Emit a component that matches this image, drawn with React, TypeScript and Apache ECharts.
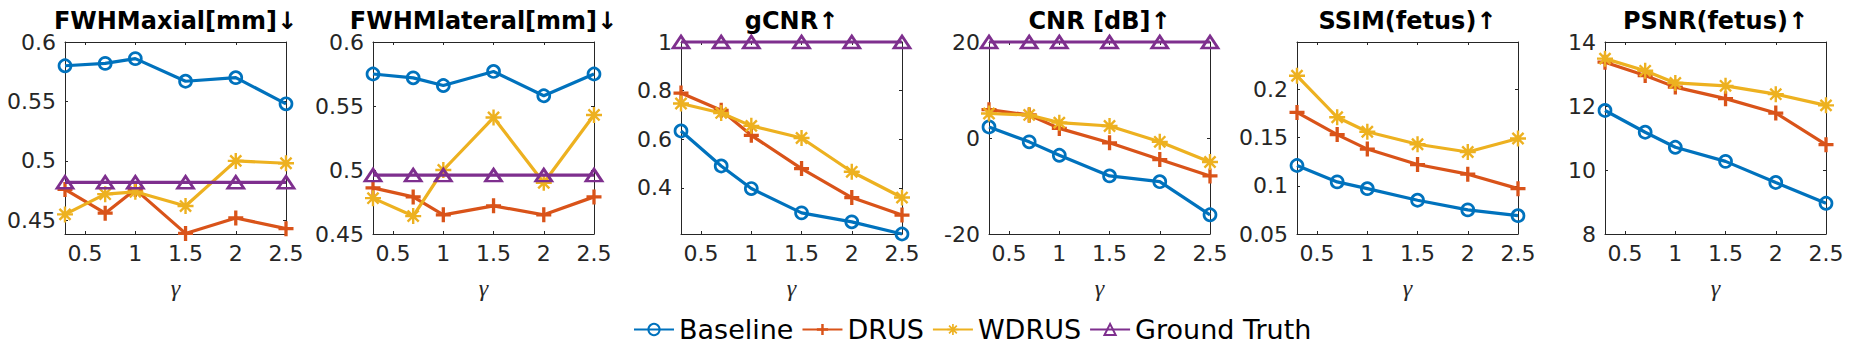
import React, { useEffect, useRef } from 'react';
import * as echarts from 'echarts';

// ---- data ----
const gamma = [0.3, 0.7, 1, 1.5, 2, 2.5];
const xTicks = [0.5, 1, 1.5, 2, 2.5];
const titles = ['FWHMaxial[mm]↓', 'FWHMlateral[mm]↓', 'gCNR↑', 'CNR [dB]↑', 'SSIM(fetus)↑', 'PSNR(fetus)↑'];
const seriesNames = ['Baseline', 'DRUS', 'WDRUS', 'Ground Truth'];

const fwhmAxialBaseline = [0.580, 0.582, 0.586, 0.567, 0.570, 0.548];
const fwhmAxialDRUS = [0.476, 0.456, 0.476, 0.439, 0.452, 0.443];
const fwhmAxialWDRUS = [0.455, 0.472, 0.474, 0.462, 0.500, 0.498];
const fwhmAxialGT = [0.482, 0.482, 0.482, 0.482, 0.482, 0.482];

const fwhmLatBaseline = [0.575, 0.572, 0.566, 0.577, 0.558, 0.575];
const fwhmLatDRUS = [0.486, 0.479, 0.465, 0.472, 0.465, 0.479];
const fwhmLatWDRUS = [0.478, 0.464, 0.500, 0.541, 0.490, 0.543];
const fwhmLatGT = [0.496, 0.496, 0.496, 0.496, 0.496, 0.496];

const gcnrBaseline = [0.634, 0.490, 0.397, 0.297, 0.260, 0.210];
const gcnrDRUS = [0.790, 0.719, 0.616, 0.479, 0.360, 0.288];
const gcnrWDRUS = [0.747, 0.708, 0.655, 0.605, 0.466, 0.360];
const gcnrGT = [1, 1, 1, 1, 1, 1];

const cnrBaseline = [2.3, -0.8, -3.6, -7.9, -9.1, -16.0];
const cnrDRUS = [5.9, 4.8, 2.0, -1.0, -4.5, -7.9];
const cnrWDRUS = [5.1, 4.8, 3.2, 2.5, -0.8, -5.0];
const cnrGT = [20, 20, 20, 20, 20, 20];

const ssimBaseline = [0.121, 0.104, 0.097, 0.085, 0.075, 0.069];
const ssimDRUS = [0.176, 0.153, 0.138, 0.122, 0.112, 0.097];
const ssimWDRUS = [0.214, 0.171, 0.156, 0.143, 0.135, 0.149];

const psnrBaseline = [11.86, 11.18, 10.71, 10.27, 9.61, 8.96];
const psnrDRUS = [13.37, 12.95, 12.59, 12.23, 11.78, 10.79];
const psnrWDRUS = [13.48, 13.10, 12.72, 12.63, 12.37, 12.02];

const panels: (number[] | null)[][] = [
  [fwhmAxialBaseline, fwhmAxialDRUS, fwhmAxialWDRUS, fwhmAxialGT],
  [fwhmLatBaseline, fwhmLatDRUS, fwhmLatWDRUS, fwhmLatGT],
  [gcnrBaseline, gcnrDRUS, gcnrWDRUS, gcnrGT],
  [cnrBaseline, cnrDRUS, cnrWDRUS, cnrGT],
  [ssimBaseline, ssimDRUS, ssimWDRUS, null],
  [psnrBaseline, psnrDRUS, psnrWDRUS, null],
];

const yMins = [0.4385, 0.45, 0.21, -20, 0.05, 8];
const yMaxs = [0.6, 0.6, 1, 20, 0.249, 14];
const yTicks = [
  [0.45, 0.5, 0.55, 0.6],
  [0.45, 0.5, 0.55, 0.6],
  [0.4, 0.6, 0.8, 1],
  [-20, 0, 20],
  [0.05, 0.1, 0.15, 0.2],
  [8, 10, 12, 14],
];

// ---- layout / style ----
const gridLefts = [65, 373, 681, 989, 1297, 1605];
const gridTop = 42;
const gridW = 221;
const gridH = 192;
const colors = ['#0072BD', '#D95319', '#EDB120', '#7E2F8E'];
const axisColor = '#262626';
const FONT = 'DejaVu Sans';

const plusPath = 'path://M7.8,0H12.2V7.8H20V12.2H12.2V20H7.8V12.2H0V7.8H7.8Z';
const starPath =
  'path://M0,8.5H20V11.5H0Z M8.5,0H11.5V20H8.5Z M4.1,2.0L18.0,15.9L15.9,18.0L2.0,4.1Z M2.0,15.9L15.9,2.0L18.0,4.1L4.1,18.0Z';

function fmt(v: number) {
  return String(parseFloat(v.toFixed(4)));
}

function buildOption() {
  const xAxis: any[] = [];
  const yAxis: any[] = [];
  const grid: any[] = [];
  const series: any[] = [];
  const graphic: any[] = [];

  panels.forEach((sets, i) => {
    grid.push({ left: gridLefts[i], top: gridTop, width: gridW, height: gridH, containLabel: false });
    const axLine = { show: true, onZero: false, lineStyle: { color: axisColor, width: 1 } };
    const tickX = { show: true, inside: true, length: 3, lineStyle: { color: axisColor }, customValues: xTicks };
    const tickY = { show: true, inside: true, length: 3, lineStyle: { color: axisColor }, customValues: yTicks[i] };
    xAxis.push({
      type: 'value', gridIndex: i, position: 'bottom', min: 0.3, max: 2.5,
      axisLine: axLine, axisTick: tickX, splitLine: { show: false },
      axisLabel: { show: true, customValues: xTicks, margin: 8, color: axisColor, fontSize: 22, fontFamily: FONT, formatter: (v: number) => fmt(v) },
      name: 'γ', nameLocation: 'middle', nameGap: 42,
      nameTextStyle: { fontFamily: 'Liberation Serif', fontStyle: 'italic', fontSize: 24, color: axisColor },
    });
    xAxis.push({
      type: 'value', gridIndex: i, position: 'top', min: 0.3, max: 2.5,
      axisLine: axLine, axisTick: tickX, splitLine: { show: false }, axisLabel: { show: false },
    });
    yAxis.push({
      type: 'value', gridIndex: i, position: 'left', min: yMins[i], max: yMaxs[i],
      axisLine: axLine, axisTick: tickY, splitLine: { show: false },
      axisLabel: { show: true, customValues: yTicks[i], margin: 9, color: axisColor, fontSize: 22, fontFamily: FONT, formatter: (v: number) => fmt(v) },
    });
    yAxis.push({
      type: 'value', gridIndex: i, position: 'right', min: yMins[i], max: yMaxs[i],
      axisLine: axLine, axisTick: tickY, splitLine: { show: false }, axisLabel: { show: false },
    });

    sets.forEach((vals, s) => {
      if (!vals) return;
      const c = colors[s];
      let symbol: string;
      let symbolSize: any;
      let itemStyle: any;
      if (s === 0) {
        symbol = 'circle'; symbolSize = 12;
        itemStyle = { color: 'rgba(255,255,255,0)', borderColor: c, borderWidth: 2.7 };
      } else if (s === 1) {
        symbol = plusPath; symbolSize = 15;
        itemStyle = { color: c, borderWidth: 0 };
      } else if (s === 2) {
        symbol = starPath; symbolSize = 16;
        itemStyle = { color: c, borderWidth: 0 };
      } else {
        symbol = 'triangle'; symbolSize = [16, 12];
        itemStyle = { color: 'rgba(255,255,255,0)', borderColor: c, borderWidth: 2.7 };
      }
      series.push({
        type: 'line', name: seriesNames[s], xAxisIndex: i * 2, yAxisIndex: i * 2,
        data: gamma.map((g, k) => [g, vals[k]]),
        clip: false, symbol, symbolSize, showAllSymbol: true,
        lineStyle: { color: c, width: 3.2 }, itemStyle,
        emphasis: { disabled: true }, z: 2 + s,
      });
    });

    graphic.push({
      type: 'text', x: gridLefts[i] + gridW / 2, y: 21,
      style: { text: titles[i], align: 'center', verticalAlign: 'middle', fontSize: 24, fontWeight: 'bold', fontFamily: FONT, fill: '#000' },
    });
  });

  return {
    animation: false,
    backgroundColor: '#ffffff',
    grid, xAxis, yAxis, series, graphic,
    legend: {
      left: 631, top: 314, itemWidth: 40, itemHeight: 14, itemGap: 8, padding: 2, selectedMode: false,
      textStyle: { fontSize: 27, color: '#000', fontFamily: FONT },
      data: seriesNames,
    },
  };
}

export default function App() {
  const ref = useRef<HTMLDivElement>(null);
  useEffect(() => {
    if (!ref.current) return;
    const chart = echarts.init(ref.current, undefined, { renderer: 'svg' });
    chart.setOption(buildOption() as any);
    return () => chart.dispose();
  }, []);
  return <div ref={ref} style={{ position: 'fixed', left: 0, top: 0, width: 1854, height: 350, background: '#fff' }} />;
}
